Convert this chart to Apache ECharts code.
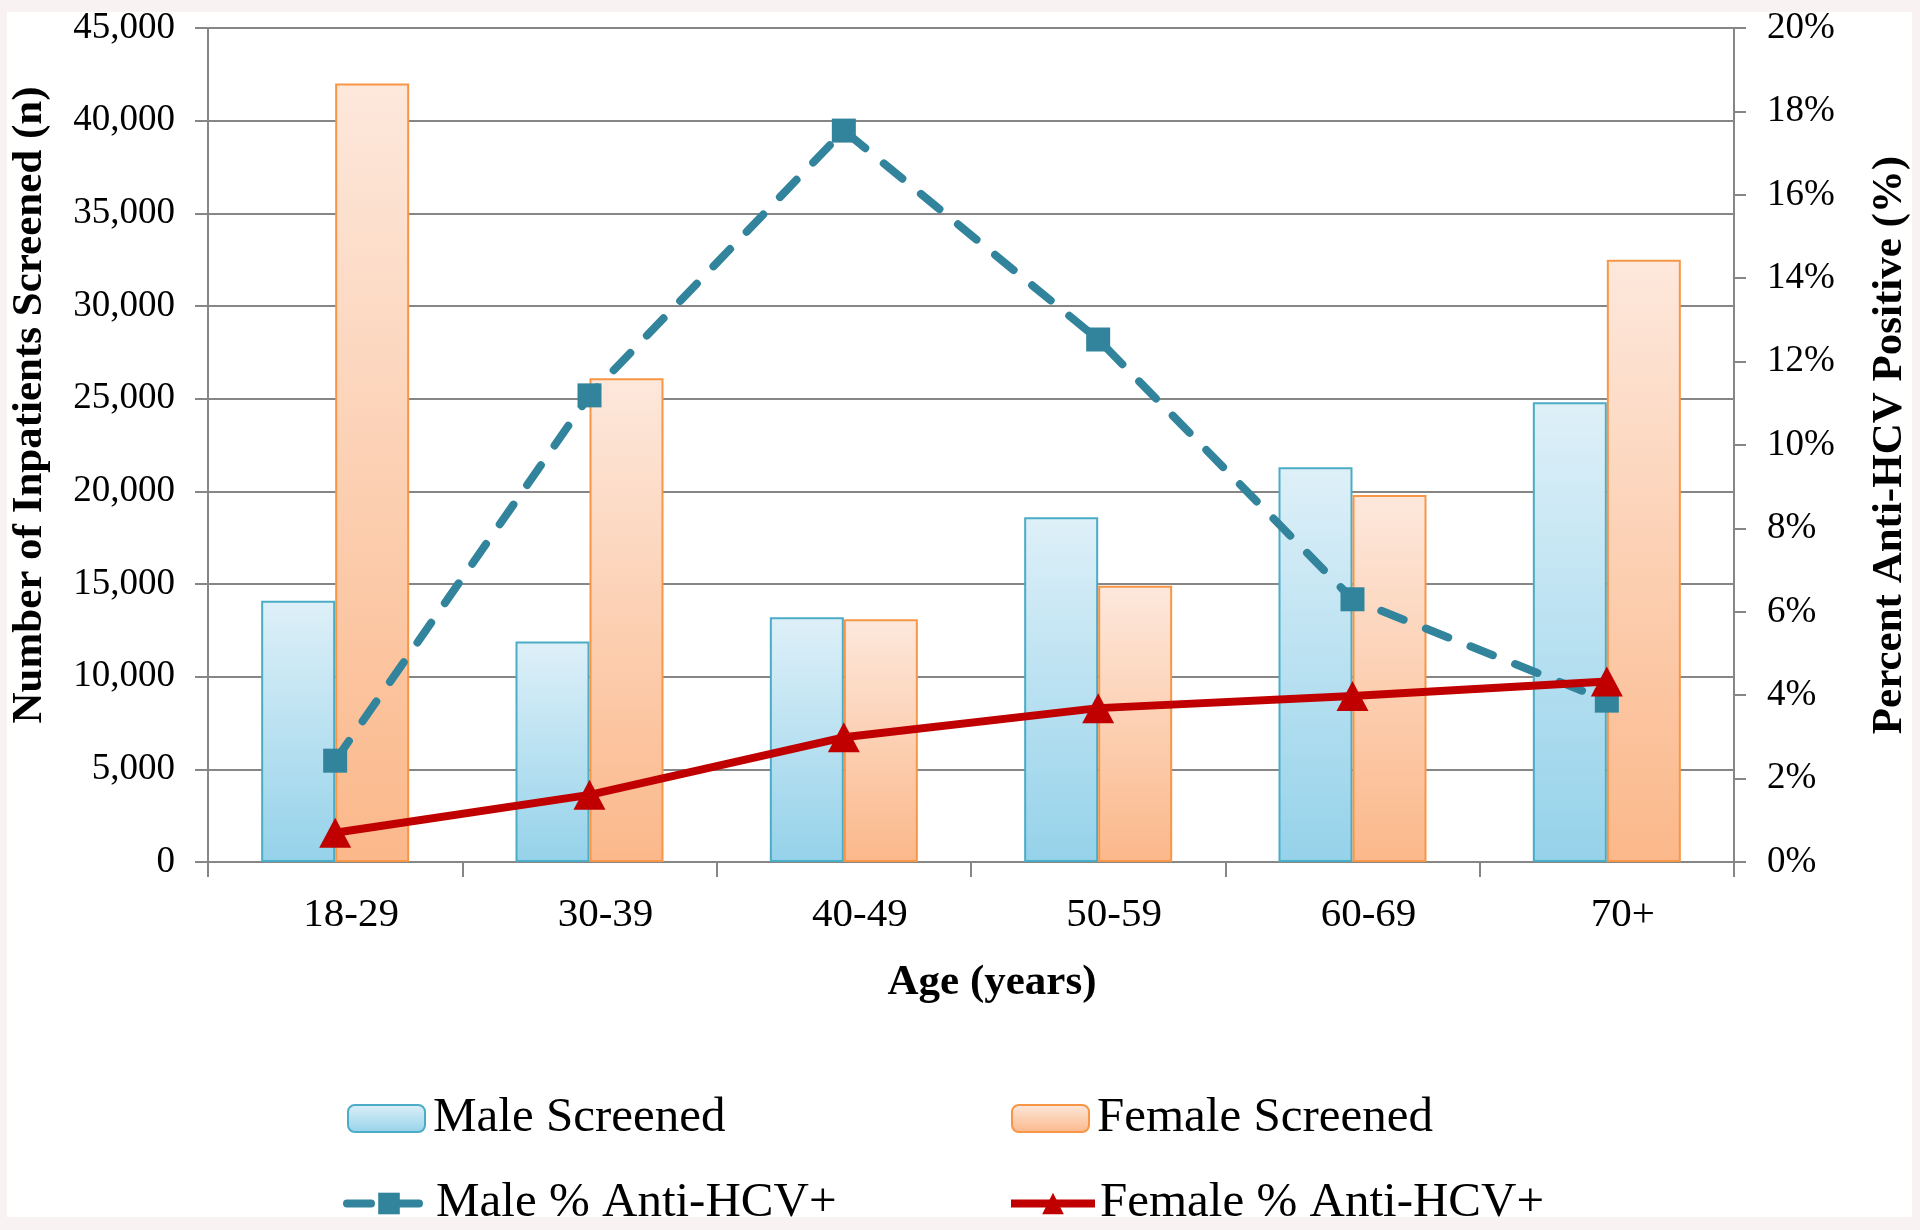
<!DOCTYPE html>
<html><head><meta charset="utf-8">
<script src="https://cdn.jsdelivr.net/npm/echarts@6/dist/echarts.min.js"></script>
<style>
html,body{margin:0;padding:0;background:#F9F2F2;overflow:hidden;}
#bg{position:absolute;left:7px;top:12px;width:1905px;height:1205px;background:#fff;}
#chart{position:absolute;left:0;top:0;width:1920px;height:1230px;}
</style></head><body>
<div id="bg"></div><div id="chart"></div>
<script>
const categories = ['18-29', '30-39', '40-49', '50-59', '60-69', '70+'];
const maleScreened = [14100, 11900, 13200, 18600, 21300, 24800];
const femaleScreened = [42000, 26100, 13100, 14900, 19800, 32500];
const malePct = [2.43, 11.19, 17.54, 12.53, 6.30, 3.87];
const femalePct = [0.70, 1.61, 2.99, 3.69, 3.98, 4.33];

const FONT = "'Liberation Serif', 'Times New Roman', serif";
const GRAY = '#868686';
const chart = echarts.init(document.getElementById('chart'), null, {renderer: 'canvas'});

function grad(top, bottom) {
  return new echarts.graphic.LinearGradient(0, 0, 0, 1, [{offset: 0, color: top}, {offset: 1, color: bottom}]);
}
function lg(name, left, top, w, isLine) {
  const o = {data: [name], left: left, top: top, padding: 0, itemWidth: w, itemHeight: 27, itemGap: 0,
    selectedMode: false, textStyle: {fontFamily: FONT, fontSize: 49, color: '#000', padding: [0, 0, 0, isLine ? 0 : 3]}};
  if (isLine) o.lineStyle = {width: 8};
  return o;
}

const option = {
  backgroundColor: 'transparent',
  animation: false,
  textStyle: {fontFamily: FONT, color: '#000'},
  grid: {left: 206, right: 186, top: 28, bottom: 368, containLabel: false},
  legend: [
    lg('Male Screened', 347, 1094, 77, false),
    lg('Female Screened', 1011, 1094, 77, false),
    lg('Male % Anti-HCV+', 343, 1179, 84, true),
    lg('Female % Anti-HCV+', 1007, 1179, 84, true)
  ],
  xAxis: {
    type: 'category', data: categories, boundaryGap: true,
    axisLine: {lineStyle: {color: GRAY, width: 2}},
    axisTick: {show: true, length: 15, lineStyle: {color: GRAY, width: 2}},
    axisLabel: {fontFamily: FONT, fontSize: 41, color: '#000', margin: 33, padding: [0, 0, 0, 32]},
    name: 'Age (years)', nameLocation: 'middle', nameGap: 99,
    nameTextStyle: {fontFamily: FONT, fontSize: 43, fontWeight: 'bold', color: '#000', padding: [0, 0, 0, 42]}
  },
  yAxis: [
    {
      type: 'value', min: 0, max: 45000, interval: 5000, position: 'left',
      axisLine: {show: true, lineStyle: {color: GRAY, width: 2}},
      axisTick: {show: true, length: 13, lineStyle: {color: GRAY, width: 2}},
      splitLine: {show: true, lineStyle: {color: GRAY, width: 2}},
      axisLabel: {fontFamily: FONT, fontSize: 37, color: '#000', margin: 33,
        formatter: v => v.toLocaleString('en-US')},
      name: 'Number of Inpatients Screened (n)', nameLocation: 'middle', nameRotate: 90, nameGap: 157,
      nameTextStyle: {fontFamily: FONT, fontSize: 43, fontWeight: 'bold', color: '#000', padding: [0, 0, 0, 80]}
    },
    {
      type: 'value', min: 0, max: 20, interval: 2, position: 'right',
      axisLine: {show: true, lineStyle: {color: GRAY, width: 2}},
      axisTick: {show: true, length: 12, lineStyle: {color: GRAY, width: 2}},
      splitLine: {show: false},
      axisLabel: {fontFamily: FONT, fontSize: 37, color: '#000', margin: 33, formatter: '{value}%'},
      name: 'Percent Anti-HCV Positive (%)', nameLocation: 'middle', nameRotate: 90, nameGap: 134,
      nameTextStyle: {fontFamily: FONT, fontSize: 43, fontWeight: 'bold', color: '#000'}
    }
  ],
  series: [
    {name: 'Male Screened', type: 'bar', yAxisIndex: 0, data: maleScreened, barWidth: 74, barGap: '0%',
      itemStyle: {color: grad('#DEF0F8', '#95D2EA'), borderColor: '#4BACC6', borderWidth: 2}},
    {name: 'Female Screened', type: 'bar', yAxisIndex: 0, data: femaleScreened, barWidth: 74, barGap: '0%',
      itemStyle: {color: grad('#FDE8DC', '#FBB88A'), borderColor: '#F79646', borderWidth: 2}},
    {name: 'Male % Anti-HCV+', type: 'line', yAxisIndex: 1, data: malePct, symbol: 'rect', symbolSize: 24,
      lineStyle: {color: '#31849B', width: 8, type: [24, 24], cap: 'round'}, itemStyle: {color: '#31849B'}, z: 3},
    {name: 'Female % Anti-HCV+', type: 'line', yAxisIndex: 1, data: femalePct, symbol: 'triangle', symbolSize: [32, 30],
      lineStyle: {color: '#C00000', width: 8}, itemStyle: {color: '#C00000'}, z: 4}
  ]
};
chart.setOption(option);
</script>
</body></html>
